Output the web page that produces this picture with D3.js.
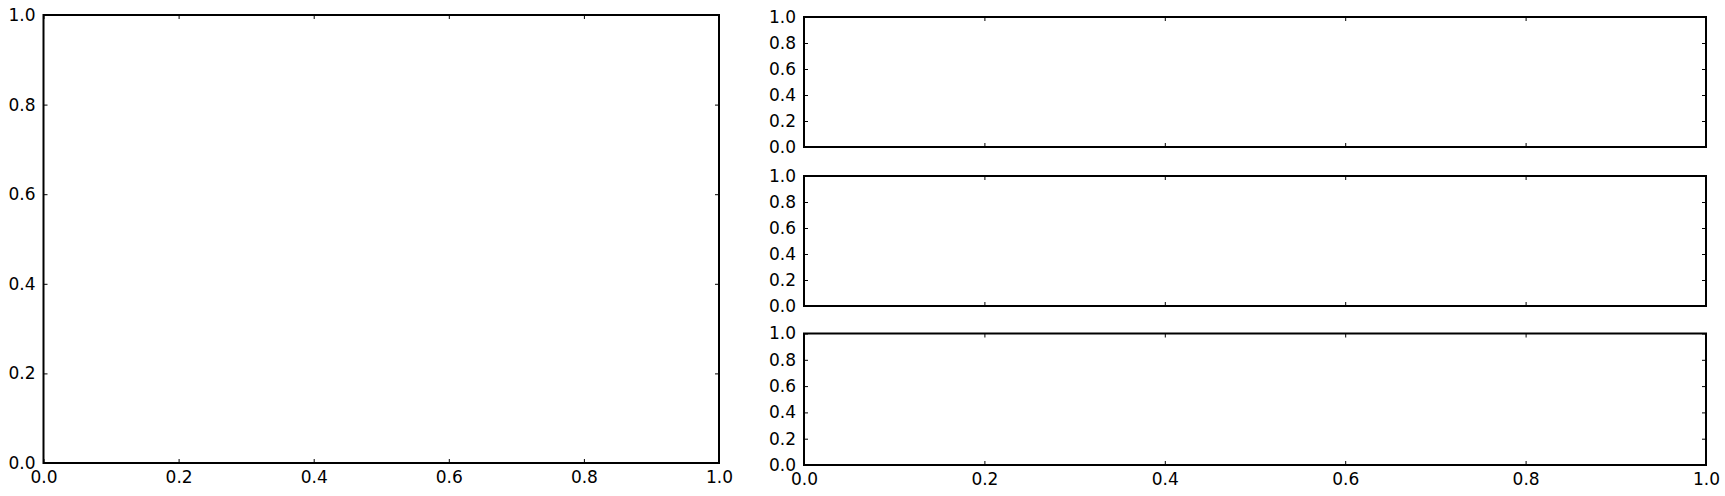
<!DOCTYPE html>
<html><head><meta charset="utf-8">
<script src="https://cdn.jsdelivr.net/npm/d3@7"></script>
<style>body{margin:0;background:#fff}svg{display:block}text{font-family:"DejaVu Sans",sans-serif;font-size:17px;fill:#000}</style>
</head><body><svg id="c" width="1725" height="496"></svg>
<script>
const xTicks = [0, 0.2, 0.4, 0.6, 0.8, 1.0];
const yTicks = [0, 0.2, 0.4, 0.6, 0.8, 1.0];
const xDomain = [0, 1];
const yDomain = [0, 1];

const panels = [
  {x0: 43.5, x1: 719, y0: 15, y1: 463, xlabels: true},
  {x0: 804, x1: 1706, y0: 17, y1: 147, xlabels: false},
  {x0: 804, x1: 1706, y0: 176, y1: 306, xlabels: false},
  {x0: 804, x1: 1706, y0: 333.5, y1: 465, xlabels: true}
];
const svg = d3.select("#c");
const fmt = d3.format(".1f");
panels.forEach(p => {
  const x = d3.scaleLinear().domain(xDomain).range([p.x0, p.x1]);
  const y = d3.scaleLinear().domain(yDomain).range([p.y1, p.y0]);
  const g = svg.append("g");
  const tl = 4;
  g.append("g").attr("transform", `translate(0,${p.y1})`)
    .call(d3.axisBottom(x).tickValues(xTicks).tickSize(-tl).tickPadding(8).tickFormat(p.xlabels ? fmt : ""));
  g.append("g").attr("transform", `translate(0,${p.y0})`)
    .call(d3.axisTop(x).tickValues(xTicks).tickSize(-tl).tickFormat(""));
  g.append("g").attr("transform", `translate(${p.x0},0)`)
    .call(d3.axisLeft(y).tickValues(yTicks).tickSize(-tl).tickPadding(8).tickFormat(fmt));
  g.append("g").attr("transform", `translate(${p.x1},0)`)
    .call(d3.axisRight(y).tickValues(yTicks).tickSize(-tl).tickFormat(""));
  g.selectAll(".domain").remove();
  g.selectAll(".tick line").attr("stroke", "#000").attr("stroke-width", 1);
  g.selectAll(".tick text").attr("font-size", 17).attr("font-family", "DejaVu Sans, sans-serif").attr("fill", "#000");
  g.append("rect").attr("x", p.x0).attr("y", p.y0).attr("width", p.x1 - p.x0).attr("height", p.y1 - p.y0)
    .attr("fill", "none").attr("stroke", "#000").attr("stroke-width", 2);
});
</script></body></html>
